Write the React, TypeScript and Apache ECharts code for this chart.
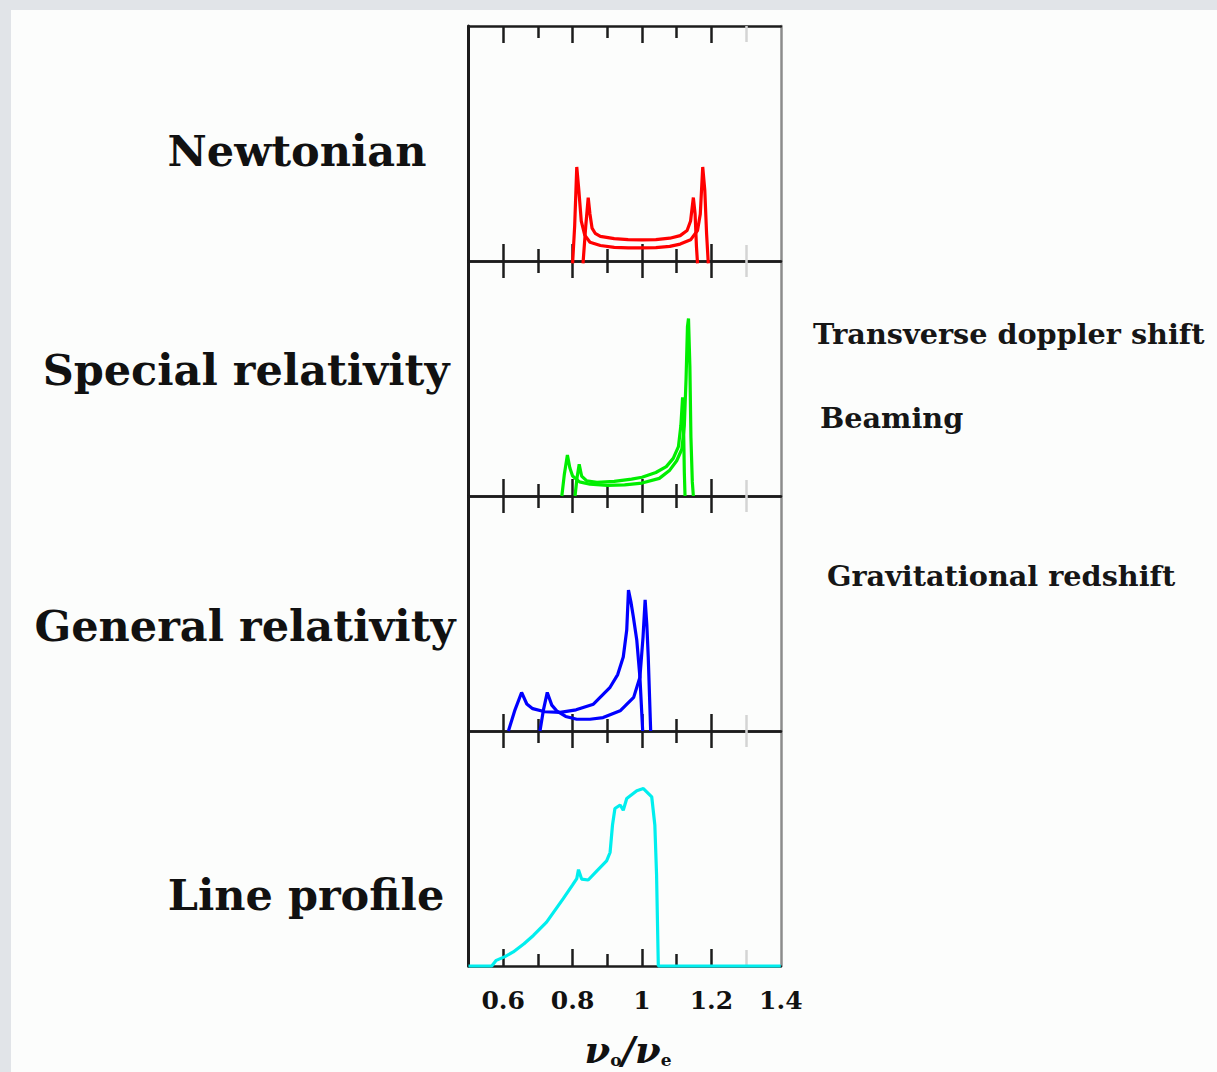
import React, { useEffect, useRef } from "react";
import * as echarts from "echarts";

// ---- data ----
const xMin = 0.5;
const xMax = 1.4;
const majorTicks = [0.6, 0.8, 1, 1.2];
const minorTicks = [0.7, 0.9, 1.1];
const faintTicks = [1.3];
const tickLabels = [0.6, 0.8, 1, 1.2, 1.4];

const panelLabels = ["Newtonian", "Special relativity", "General relativity", "Line profile"];
const effectLabels = ["Transverse doppler shift", "Beaming", "Gravitational redshift"];

const newtonWide: number[][] = [
  [0.8, -0.01], [0.806, 0.15], [0.812, 0.4], [0.818, 0.3], [0.825, 0.17], [0.835, 0.11], [0.85, 0.08],
  [0.88, 0.066], [0.92, 0.058], [0.96, 0.056], [1.0, 0.056], [1.04, 0.057], [1.08, 0.062], [1.11, 0.072],
  [1.14, 0.09], [1.16, 0.13], [1.168, 0.2], [1.175, 0.4], [1.181, 0.3], [1.186, 0.12], [1.191, -0.01],
];
const newtonNarrow: number[][] = [
  [0.83, -0.01], [0.838, 0.15], [0.845, 0.27], [0.85, 0.2], [0.856, 0.14], [0.865, 0.118], [0.88, 0.105],
  [0.92, 0.095], [0.96, 0.091], [1.0, 0.09], [1.04, 0.091], [1.08, 0.097], [1.11, 0.108], [1.13, 0.13],
  [1.14, 0.17], [1.148, 0.27], [1.153, 0.2], [1.157, 0.06], [1.16, -0.01],
];
const srWide: number[][] = [
  [0.769, 0], [0.776, 0.09], [0.785, 0.174], [0.792, 0.12], [0.8, 0.085], [0.82, 0.06], [0.85, 0.05],
  [0.9, 0.045], [0.95, 0.047], [1.0, 0.055], [1.05, 0.075], [1.08, 0.11], [1.1, 0.15], [1.115, 0.2],
  [1.122, 0.3], [1.127, 0.5], [1.131, 0.72], [1.134, 0.755], [1.138, 0.55], [1.141, 0.25], [1.145, 0.06], [1.148, 0],
];
const srNarrow: number[][] = [
  [0.807, 0], [0.813, 0.08], [0.819, 0.135], [0.826, 0.085], [0.84, 0.065], [0.87, 0.058], [0.92, 0.062],
  [0.97, 0.072], [1.0, 0.08], [1.04, 0.1], [1.07, 0.125], [1.09, 0.16], [1.105, 0.21], [1.112, 0.3],
  [1.117, 0.42], [1.12, 0.28], [1.122, 0.1], [1.124, 0],
];
const grWide: number[][] = [
  [0.615, 0], [0.634, 0.09], [0.653, 0.164], [0.668, 0.115], [0.685, 0.095], [0.72, 0.082], [0.764, 0.079],
  [0.81, 0.09], [0.86, 0.114], [0.908, 0.186], [0.93, 0.24], [0.946, 0.315], [0.956, 0.43], [0.961, 0.6],
  [0.968, 0.55], [0.975, 0.486], [0.985, 0.386], [0.994, 0.229], [1.002, 0],
];
const grNarrow: number[][] = [
  [0.706, 0], [0.716, 0.09], [0.727, 0.164], [0.74, 0.11], [0.754, 0.086], [0.78, 0.062], [0.812, 0.05],
  [0.85, 0.05], [0.888, 0.057], [0.937, 0.086], [0.976, 0.143], [0.994, 0.229], [1.003, 0.4], [1.009, 0.558],
  [1.014, 0.45], [1.018, 0.315], [1.025, 0],
];
const lineProfile: number[][] = [
  [0.5, 0], [0.567, 0], [0.58, 0.024], [0.605, 0.04], [0.629, 0.06], [0.66, 0.095], [0.687, 0.13],
  [0.725, 0.187], [0.773, 0.287], [0.8, 0.345], [0.812, 0.372], [0.817, 0.41], [0.826, 0.37], [0.845, 0.366],
  [0.87, 0.405], [0.898, 0.447], [0.908, 0.483], [0.915, 0.6], [0.922, 0.67], [0.937, 0.685], [0.946, 0.663],
  [0.956, 0.713], [0.985, 0.746], [1.004, 0.755], [1.028, 0.72], [1.037, 0.6], [1.042, 0.386], [1.047, 0], [1.4, 0],
];

const panelSeries = [
  { color: "#ff0000", curves: [newtonWide, newtonNarrow] },
  { color: "#00ee00", curves: [srWide, srNarrow] },
  { color: "#0000ff", curves: [grWide, grNarrow] },
  { color: "#00eeee", curves: [lineProfile] },
];

// ---- layout ----
const GRID_LEFT = 468.5;
const GRID_WIDTH = 312.3;
const GRID_TOP = 26;
const GRID_H = 235;
const FRAME = "#1c1c1c";

function buildOption() {
  const grid: any[] = [];
  const xAxis: any[] = [];
  const yAxis: any[] = [];
  const series: any[] = [];

  for (let i = 0; i < 4; i++) {
    grid.push({ left: GRID_LEFT, top: GRID_TOP + GRID_H * i, width: GRID_WIDTH, height: GRID_H });
    const tickSets = [
      { vals: majorTicks, len: 17, color: FRAME, line: true },
      { vals: minorTicks, len: 12, color: FRAME, line: false },
      { vals: faintTicks, len: 16, color: "#d4d4d4", line: false },
    ];
    for (const pos of ["bottom", "top"]) {
      tickSets.forEach((t, k) => {
        const isLabelAxis = pos === "bottom" && k === 0 && i === 3;
        xAxis.push({
          type: "value",
          gridIndex: i,
          position: pos,
          min: xMin,
          max: xMax,
          axisLine: { show: t.line, onZero: false, lineStyle: { color: FRAME, width: 2.5 } },
          axisTick: { show: true, inside: true, length: t.len, customValues: t.vals, lineStyle: { color: t.color, width: 2.5 } },
          axisLabel: isLabelAxis
            ? { show: true, customValues: tickLabels, margin: 22, color: "#111", fontSize: 25, fontWeight: "bold", fontFamily: "DejaVu Serif" }
            : { show: false },
          splitLine: { show: false },
        });
      });
    }
    yAxis.push({
      type: "value", gridIndex: i, min: 0, max: 1, position: "left",
      axisLine: { show: true, onZero: false, lineStyle: { color: FRAME, width: 3 } },
      axisTick: { show: false }, axisLabel: { show: false }, splitLine: { show: false },
    });
    yAxis.push({
      type: "value", gridIndex: i, min: 0, max: 1, position: "right",
      axisLine: { show: true, onZero: false, lineStyle: { color: "#8c8c8c", width: 2.5 } },
      axisTick: { show: false }, axisLabel: { show: false }, splitLine: { show: false },
    });
    panelSeries[i].curves.forEach((c, j) => {
      series.push({
        type: "line",
        name: `${panelLabels[i]} ${j + 1}`,
        xAxisIndex: i * 6,
        yAxisIndex: i * 2,
        data: c,
        showSymbol: false,
        symbol: "none",
        clip: false,
        z: 5,
        lineStyle: { color: panelSeries[i].color, width: 3.2 },
      });
    });
  }

  const leftPos = [
    { x: 297, y: 151 },
    { x: 246, y: 370 },
    { x: 245, y: 626 },
    { x: 306, y: 895 },
  ];
  const rightPos = [
    { x: 813, y: 334 },
    { x: 820, y: 418 },
    { x: 827, y: 576 },
  ];

  const graphic: any[] = [
    { type: "rect", silent: true, z: -10, shape: { x: 11, y: 10, width: 1206, height: 1062 }, style: { fill: "#fcfdfc" } },
  ];
  panelLabels.forEach((t, i) => {
    graphic.push({
      type: "text", x: leftPos[i].x, y: leftPos[i].y, z: 10,
      style: { text: t, fill: "#111", font: "bold 43px 'DejaVu Serif'", align: "center", verticalAlign: "middle" },
    });
  });
  effectLabels.forEach((t, i) => {
    graphic.push({
      type: "text", x: rightPos[i].x, y: rightPos[i].y, z: 10,
      style: { text: t, fill: "#161616", font: "bold 28.7px 'DejaVu Serif'", align: "left", verticalAlign: "middle" },
    });
  });
  graphic.push({
    type: "text", x: 628, y: 1050, z: 10,
    style: {
      text: "{n|ν}{s|o}{n|/ν}{s|e}",
      align: "center",
      verticalAlign: "middle",
      rich: {
        n: { fontSize: 37, fontStyle: "italic", fontWeight: "bold", fontFamily: "DejaVu Serif", fill: "#111" },
        s: { fontSize: 17, fontWeight: "bold", fontFamily: "DejaVu Serif", fill: "#111", verticalAlign: "bottom", padding: [16, 0, 0, 0] },
      },
    },
  });

  return {
    animation: false,
    backgroundColor: "#e1e4e8",
    grid,
    xAxis,
    yAxis,
    series,
    graphic,
  };
}

export default function App() {
  const ref = useRef<HTMLDivElement>(null);
  useEffect(() => {
    if (!ref.current) return;
    const chart = echarts.init(ref.current, null, { renderer: "svg" });
    chart.setOption(buildOption() as any);
    return () => chart.dispose();
  }, []);
  return <div ref={ref} style={{ position: "absolute", left: 0, top: 0, width: 1217, height: 1072 }} />;
}
